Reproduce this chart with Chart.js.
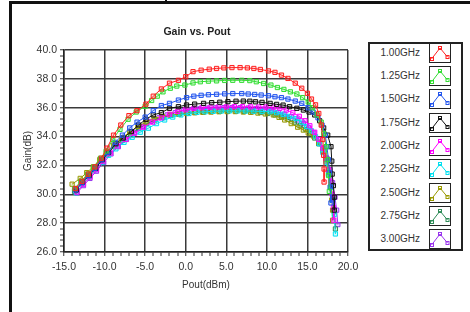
<!DOCTYPE html>
<html>
<head>
<meta charset="utf-8">
<script src="https://cdn.jsdelivr.net/npm/chart.js@4"></script>
<style>
  body { margin: 0; background: #fff; font-family: "Liberation Sans", Arial, sans-serif; }
  #wrap { position: relative; width: 470px; height: 312px; overflow: hidden; }
  #c { position: absolute; left: 0; top: 0; }
  .frameTop { position: absolute; left: 9px; top: 1px; width: 461px; height: 3px; background: #111; }
  .frameLeft { position: absolute; left: 9px; top: 1px; width: 3px; height: 311px; background: #111; }
  .nub { position: absolute; left: 165px; top: 0; width: 2px; height: 4px; background: #111; }
  #title { position: absolute; left: 0; top: 24px; width: 394px; text-align: center;
           font: bold 10.5px "Liberation Sans", Arial, sans-serif; line-height: 14px; color: #222; }
  #legend { position: absolute; left: 368px; top: 42px; width: 91px; height: 205px;
            border: 2px solid #222; background: #fff; }
  .row { position: absolute; left: 0; width: 91px; height: 20px; }
  .row span { position: absolute; right: 41px; top: 0; line-height: 20px; font-size: 10px; color: #333; }
  .row svg { position: absolute; left: 59px; top: 0; border: 1px solid #222; }
</style>
</head>
<body>
<div id="wrap">
  <canvas id="c" width="470" height="312"></canvas>
  <div class="frameTop"></div>
  <div class="frameLeft"></div>
  <div class="nub"></div>
  <div id="title">Gain vs. Pout</div>
  <div id="legend"></div>
</div>
<script>
// series names and colours
const labels = ['1.00GHz', '1.25GHz', '1.50GHz', '1.75GHz', '2.00GHz', '2.25GHz', '2.50GHz', '2.75GHz', '3.00GHz'];
const colors = ['#ff2020', '#33dd33', '#2255ee', '#111111', '#ff00ff', '#00e0f0', '#999900', '#2e8b57', '#9933ee'];

// [Pout (dBm), Gain (dB)]
const s100 = [[-13.6,30.4],[-12.8,30.9],[-12.0,31.4],[-11.2,31.9],[-10.4,32.5],[-9.7,33.2],[-8.9,34.1],[-8.0,34.8],[-7.0,35.45],[-6.0,35.8],[-4.9,36.25],[-4.0,36.8],[-3.0,37.3],[-2.0,37.7],[-0.9,37.9],[0.0,38.15],[0.9,38.5],[1.9,38.6],[2.9,38.67],[3.8,38.72],[4.7,38.76],[5.7,38.78],[6.7,38.78],[7.6,38.76],[8.4,38.72],[9.2,38.65],[10.2,38.55],[11.0,38.45],[11.8,38.26],[12.6,38.03],[13.5,37.7],[14.3,37.35],[15.0,37.0],[15.5,36.6],[16.0,36.2],[16.4,35.6],[16.7,34.8],[16.9,33.8],[17.0,32.7],[17.05,31.75],[17.05,30.85]];
const s125 = [[-13.7,30.4],[-12.9,30.9],[-12.1,31.4],[-11.3,31.9],[-10.5,32.5],[-9.8,33.0],[-9.0,33.8],[-8.1,34.5],[-7.1,35.2],[-6.1,35.7],[-5.0,36.1],[-4.2,36.5],[-3.5,36.8],[-2.8,37.1],[-1.9,37.35],[-1.1,37.5],[-0.1,37.57],[0.9,37.72],[1.8,37.8],[2.8,37.84],[3.8,37.86],[4.8,37.89],[5.8,37.9],[6.9,37.9],[7.9,37.88],[8.7,37.8],[9.6,37.68],[10.5,37.57],[11.3,37.4],[12.1,37.27],[12.9,37.1],[13.7,36.95],[14.4,36.7],[15.1,36.4],[15.6,36.0],[16.2,35.5],[16.7,35.0],[17.0,34.2],[17.3,33.3],[17.45,32.4],[17.6,31.3],[17.7,30.2]];
const s150 = [[-13.6,30.3],[-12.8,30.8],[-12.0,31.3],[-11.2,31.8],[-10.4,32.4],[-9.6,32.9],[-8.7,33.6],[-7.8,34.1],[-6.9,34.6],[-6.0,35.0],[-5.0,35.35],[-4.0,35.8],[-3.0,36.15],[-2.0,36.3],[-0.9,36.53],[0.1,36.7],[1.0,36.8],[1.9,36.86],[2.8,36.9],[3.8,36.93],[4.8,36.96],[5.8,36.98],[6.9,36.98],[7.7,36.95],[8.5,36.92],[9.3,36.88],[10.2,36.83],[11.0,36.76],[11.8,36.7],[12.6,36.6],[13.5,36.46],[14.3,36.3],[15.1,36.0],[15.7,35.7],[16.3,35.3],[16.8,34.8],[17.2,34.1],[17.4,33.3],[17.6,32.4],[17.7,31.5],[17.8,30.5],[17.9,29.4]];
const s175 = [[-13.5,30.3],[-12.7,30.85],[-11.9,31.3],[-11.1,31.8],[-10.3,32.4],[-9.5,32.9],[-8.6,33.5],[-7.7,33.9],[-6.7,34.35],[-5.8,34.8],[-4.9,35.2],[-4.0,35.5],[-3.0,35.66],[-2.0,35.96],[-0.9,36.07],[0.1,36.19],[1.1,36.25],[2.2,36.3],[3.2,36.35],[4.2,36.38],[5.2,36.42],[6.2,36.45],[7.1,36.46],[7.9,36.45],[8.6,36.41],[9.4,36.37],[10.4,36.3],[11.2,36.23],[12.0,36.18],[12.8,36.07],[13.7,35.96],[14.5,35.84],[15.2,35.7],[15.9,35.5],[16.5,35.1],[17.0,34.6],[17.5,34.1],[17.9,33.3],[18.0,32.3],[18.05,31.4],[18.2,30.6],[18.3,29.8],[18.3,28.9]];
const s200 = [[-13.4,30.15],[-12.6,30.7],[-11.8,31.2],[-11.0,31.7],[-10.2,32.3],[-9.3,32.86],[-8.4,33.35],[-7.4,33.8],[-6.3,34.23],[-5.2,34.65],[-4.1,35.0],[-3.0,35.3],[-2.0,35.55],[-1.0,35.75],[0.0,35.86],[1.0,35.95],[2.0,36.0],[3.0,36.03],[4.0,36.05],[5.0,36.06],[6.0,36.07],[7.0,36.07],[8.0,36.06],[9.0,36.05],[9.9,36.05],[10.8,36.03],[11.6,35.96],[12.4,35.84],[13.2,35.65],[14.0,35.4],[14.7,35.1],[15.3,34.75],[15.9,34.3],[16.4,33.8],[16.9,33.2],[17.3,32.5],[17.6,31.7],[17.85,30.9],[18.05,30.0],[18.2,29.1],[18.25,28.2]];
const s225 = [[-13.5,30.1],[-12.7,30.7],[-11.9,31.2],[-11.1,31.7],[-10.3,32.2],[-9.5,32.7],[-8.6,33.15],[-7.6,33.6],[-6.6,33.95],[-5.6,34.3],[-4.6,34.58],[-3.6,34.9],[-2.6,35.15],[-1.6,35.35],[-0.6,35.5],[0.4,35.6],[1.4,35.68],[2.4,35.72],[3.4,35.75],[4.4,35.77],[5.4,35.78],[6.4,35.78],[7.4,35.77],[8.4,35.76],[9.4,35.74],[10.4,35.72],[11.2,35.65],[12.0,35.55],[12.8,35.4],[13.6,35.25],[14.3,35.0],[14.9,34.7],[15.5,34.4],[16.0,34.0],[16.5,33.5],[16.9,32.9],[17.3,32.2],[17.6,31.4],[17.9,30.5],[18.1,29.6],[18.3,28.6],[18.45,27.25]];
const s250 = [[-14.0,30.7],[-13.0,31.1],[-12.2,31.5],[-11.4,31.9],[-10.6,32.4],[-9.8,32.9],[-8.9,33.4],[-7.9,33.9],[-6.9,34.3],[-5.9,34.7],[-4.9,35.0],[-3.9,35.25],[-2.9,35.4],[-1.9,35.5],[-0.9,35.55],[0.1,35.6],[1.1,35.65],[2.1,35.68],[3.1,35.7],[4.1,35.72],[5.1,35.73],[6.1,35.73],[7.1,35.7],[8.0,35.68],[8.9,35.63],[9.8,35.57],[10.8,35.5],[11.5,35.33],[12.2,35.15],[13.0,34.9],[13.8,34.65],[14.5,34.45],[15.1,34.25],[15.8,34.0],[16.4,33.6],[16.9,33.0],[17.3,32.3],[17.6,31.4],[17.85,30.5],[18.0,29.6],[18.1,28.9],[18.1,28.2]];
const s275 = [[-13.7,30.2],[-12.9,30.75],[-12.1,31.25],[-11.3,31.75],[-10.5,32.3],[-9.7,32.8],[-8.8,33.3],[-7.8,33.75],[-6.8,34.15],[-5.8,34.55],[-4.8,34.9],[-3.8,35.15],[-2.8,35.35],[-1.8,35.48],[-0.8,35.56],[0.2,35.62],[1.2,35.67],[2.2,35.7],[3.2,35.73],[4.2,35.75],[5.2,35.76],[6.2,35.76],[7.2,35.75],[8.2,35.72],[9.2,35.67],[10.1,35.6],[11.0,35.5],[11.8,35.35],[12.6,35.2],[13.4,35.0],[14.1,34.75],[14.8,34.5],[15.4,34.2],[15.9,33.9],[16.4,33.5],[16.9,33.0],[17.3,32.4],[17.6,31.6],[17.9,30.7],[18.1,29.8],[18.3,28.8],[18.45,27.6]];
const s300 = [[-13.4,30.1],[-12.6,30.6],[-11.8,31.1],[-11.0,31.6],[-10.1,32.2],[-9.2,32.8],[-8.3,33.3],[-7.3,33.8],[-6.3,34.3],[-5.3,34.7],[-4.3,35.05],[-3.3,35.3],[-2.3,35.5],[-1.3,35.65],[-0.3,35.78],[0.7,35.86],[1.7,35.92],[2.7,35.96],[3.7,35.99],[4.7,36.0],[5.7,36.01],[6.7,36.0],[7.7,35.98],[8.7,35.95],[9.7,35.9],[10.6,35.8],[11.4,35.68],[12.2,35.55],[13.0,35.38],[13.8,35.15],[14.5,34.9],[15.2,34.6],[15.8,34.25],[16.4,33.8],[16.9,33.2],[17.4,32.5],[17.8,31.7],[18.1,30.8],[18.4,29.8],[18.6,28.9],[18.75,27.9]];

// axis ranges and ticks
const xMin = -15, xMax = 20, xMajor = 5, xMinor = 1;
const yMin = 26, yMax = 40, yMajor = 2, yMinor = 0.4;

const series = [s100, s125, s150, s175, s200, s225, s250, s275, s300];
const font = 'Liberation Sans, Arial, sans-serif';
const isMajor = (v, step) => Math.abs(v / step - Math.round(v / step)) < 1e-6;

new Chart(document.getElementById('c'), {
  type: 'scatter',
  data: {
    datasets: series.map((s, i) => ({
      label: labels[i],
      data: s.map(p => ({ x: p[0], y: p[1] })),
      showLine: true,
      borderColor: colors[i],
      borderWidth: 1,
      pointStyle: 'rect',
      pointRadius: 3,
      pointBorderWidth: 1,
      pointBorderColor: colors[i],
      pointBackgroundColor: colors[i] + '30'
    }))
  },
  options: {
    responsive: false,
    animation: false,
    layout: { padding: { left: 0, right: 122, top: 50, bottom: 0 } },
    plugins: { legend: { display: false }, tooltip: { enabled: false } },
    scales: {
      x: {
        type: 'linear', min: xMin, max: xMax,
        afterFit: s => { s.height = 60; },
        ticks: {
          stepSize: xMinor, autoSkip: false, maxRotation: 0, padding: 5,
          color: '#333', font: { family: font, size: 10.5 },
          callback: v => isMajor(v, xMajor) ? v.toFixed(1) : ''
        },
        grid: {
          color: c => isMajor(c.tick.value, xMajor) ? '#3a3a3a' : 'rgba(0,0,0,0)',
          lineWidth: c => isMajor(c.tick.value, xMajor) ? 1.5 : 0,
          tickColor: '#333', tickWidth: 1, tickLength: 4
        },
        border: { color: '#222', width: 1.5 },
        title: { display: true, text: 'Pout(dBm)', color: '#333', font: { family: font, size: 10 }, padding: { top: 0, bottom: 21 } }
      },
      y: {
        type: 'linear', min: yMin, max: yMax,
        afterFit: s => { s.width = 64; },
        ticks: {
          stepSize: yMinor, autoSkip: false, padding: 3,
          color: '#333', font: { family: font, size: 10.5 },
          callback: v => isMajor(v, yMajor) ? v.toFixed(1) : ''
        },
        grid: {
          color: c => isMajor(c.tick.value, yMajor) ? '#3a3a3a' : 'rgba(0,0,0,0)',
          lineWidth: c => isMajor(c.tick.value, yMajor) ? 1.5 : 0,
          tickColor: '#333', tickWidth: 1, tickLength: 4
        },
        border: { color: '#222', width: 1.5 },
        title: { display: true, text: 'Gain(dB)', color: '#333', font: { family: font, size: 10 }, padding: { top: 22, bottom: 0 } }
      }
    }
  }
});

// legend box on the right
const legend = document.getElementById('legend');
labels.forEach((name, i) => {
  const row = document.createElement('div');
  row.className = 'row';
  row.style.top = (52.7 + 23.33 * i - 44 - 10) + 'px';
  const c = colors[i];
  row.innerHTML = '<span>' + name + '</span>' +
    '<svg width="20" height="18" viewBox="0 0 20 18">' +
    '<polyline points="1.5,15 10,4 17.5,13" fill="none" stroke="' + c + '" stroke-width="1"/>' +
    '<rect x="0.5" y="13.5" width="3" height="3" fill="none" stroke="' + c + '"/>' +
    '<rect x="8.5" y="2.5" width="3" height="3" fill="none" stroke="' + c + '"/>' +
    '<rect x="16" y="11.5" width="3" height="3" fill="none" stroke="' + c + '"/>' +
    '</svg>';
  legend.appendChild(row);
});
</script>
</body>
</html>
